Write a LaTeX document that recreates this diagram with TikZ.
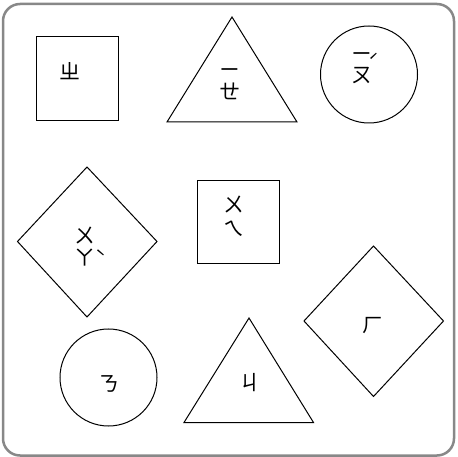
\documentclass[tikz,border=0pt]{standalone}
\usepackage{fontspec}
\newfontfamily\zy{Noto Sans CJK TC}
\definecolor{framegray}{RGB}{136,136,136}
\begin{document}
\begin{tikzpicture}[x=1pt,y=-1pt,
  shp/.style={draw=black,line width=1pt,line join=miter},
  lbl/.style={font=\zy\fontsize{21}{22}\selectfont,align=center,inner sep=0pt}]
\useasboundingbox (0,0) rectangle (458,457);
\draw[framegray,line width=2.5pt,rounded corners=17pt] (3,4) rectangle (454,455.5);
% shapes
\draw[shp] (36,37) rectangle (118,121);
\draw[shp] (232,17) -- (297,122) -- (167,122) -- cycle;
\draw[shp] (369,74.5) circle[radius=48.5];
\draw[shp] (87,167) -- (157,241.5) -- (87,317) -- (17.5,241.5) -- cycle;
\draw[shp] (197,181) rectangle (279,264);
\draw[shp] (373.5,246) -- (443.5,321) -- (373.5,396.5) -- (304,321) -- cycle;
\draw[shp] (108.5,377.5) circle[radius=48.5];
\draw[shp] (249,318) -- (313.5,422.5) -- (184,422.5) -- cycle;
% labels
\node[lbl] (zh) at (70,71.5) {ㄓ};
\node[lbl] (ie) at (230,84) {ㄧ\\ㄝ};
\node[lbl,font=\zy\fontsize{21}{21}\selectfont] (iou) at (361.5,68.5) {ㄧ\rlap{\smash{\kern-0.15em\raisebox{-0.33em}{\fontsize{18}{18}\selectfont ˊ}}}\\ㄡ};
\node[lbl] (ua) at (85,246.5) {ㄨ\rlap{\smash{\raisebox{-1.0em}{\fontsize{18}{18}\selectfont ˋ}}}\\ㄚ};
\node[lbl,font=\zy\fontsize{21}{24}\selectfont] (uei) at (233.5,216.5) {ㄨ\\ㄟ};
\node[lbl] (h) at (373,326) {ㄏ};
\node[lbl] (n) at (109,383.5) {ㄋ};
\node[lbl] (j) at (250,382.5) {ㄐ};
\end{tikzpicture}
\end{document}
